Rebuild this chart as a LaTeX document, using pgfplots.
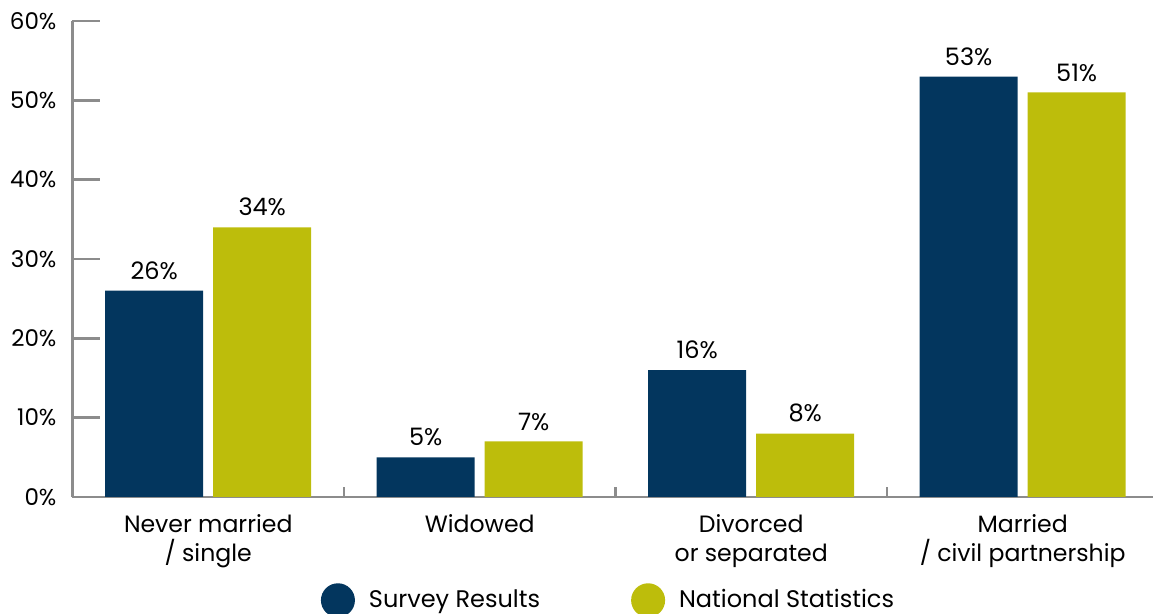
\documentclass[border=0pt]{standalone}
\usepackage{pgfplots}
\pgfplotsset{compat=1.18}
\usepackage{fontspec}
\setmainfont{Poppins}
\definecolor{navy}{HTML}{03365E}
\definecolor{olive}{HTML}{BDBD0B}
\definecolor{axgray}{HTML}{8C8C8C}
\begin{document}
\begin{tikzpicture}
\begin{axis}[
  at={(0,0)}, anchor=south west,
  scale only axis, width=540.25pt, height=238pt,
  xmin=-0.5, xmax=3.48, ymin=0, ymax=60,
  clip=false,
  axis lines=left,
  axis line style={axgray, line width=1.25pt, -},
  /pgf/number format/assume math mode=true,
  ytick={0,10,...,60},
  yticklabel={\pgfmathprintnumber{\tick}\%},
  yticklabel style={font=\fontsize{11.5}{13}\selectfont, xshift=-4.5pt},
  ytick style={axgray, line width=1.25pt},
  tick align=inside, major tick length=13.5pt,
  xtick={0,1,2,3},
  xticklabels={{Never married\\/ single}, Widowed, {Divorced\\or separated}, {Married\\/ civil partnership}},
  xticklabel style={align=center, font=\fontsize{11.8}{14.5}\selectfont, yshift=8.5pt},
  xtick style={draw=none},
  ybar=5pt, bar width=49pt,
  nodes near coords={\pgfmathprintnumber{\pgfplotspointmeta}\%},
  every node near coord/.append style={font=\fontsize{12}{14}\selectfont, yshift=2pt},
  legend style={at={(0.497,-0.217)}, anchor=center, draw=none, legend columns=2,
    font=\fontsize{12}{14}\selectfont,
    /tikz/every even column/.append style={column sep=43.5pt}},
  legend image code/.code={\fill[#1,draw=none] (8.5pt,0pt) circle (8.5pt); \path (22pt,0pt);},
]
\addplot[fill=navy, draw=none] coordinates {(0,26) (1,5) (2,16) (3,53)};
\addplot[fill=olive, draw=none] coordinates {(0,34) (1,7) (2,8) (3,51)};
\legend{Survey Results, National Statistics}
\draw[axgray, line width=1.25pt] (axis cs:0.5,0) -- (axis cs:0.5,1.26);
\draw[axgray, line width=1.25pt] (axis cs:1.5,0) -- (axis cs:1.5,1.26);
\draw[axgray, line width=1.25pt] (axis cs:2.5,0) -- (axis cs:2.5,1.26);
\end{axis}
\pgfresetboundingbox
\useasboundingbox (-36.25pt,-58.5pt) rectangle (540.25pt,248.5pt);
\end{tikzpicture}
\end{document}
